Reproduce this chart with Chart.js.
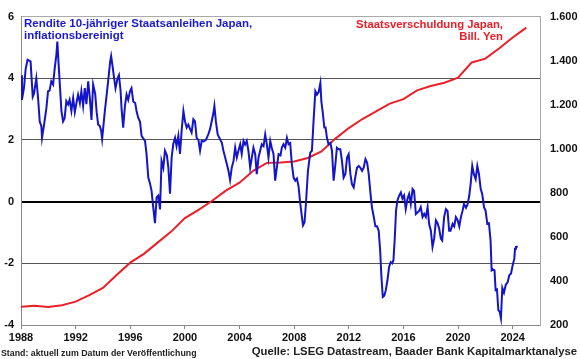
<!DOCTYPE html>
<html>
<head>
<meta charset="utf-8">
<script src="https://cdn.jsdelivr.net/npm/chart.js@4/dist/chart.umd.min.js"></script>
<style>
  body { margin: 0; background: #fff; }
  #wrap { position: relative; width: 580px; height: 359px; font-family: "Liberation Sans", Arial, sans-serif; font-weight: bold; }
  .lbl { position: absolute; white-space: nowrap; line-height: 12px; }
</style>
</head>
<body>
<div id="wrap">
  <canvas id="lineChart" width="580" height="359"></canvas>
  <div class="lbl" style="left:24px; top:17px; font-size:11.5px; color:#1a1acc;">Rendite 10-jähriger Staatsanleihen Japan,<br>inflationsbereinigt</div>
  <div class="lbl" style="right:77px; top:18px; font-size:11.3px; color:#e8202a; text-align:right;">Staatsverschuldung Japan,<br>Bill. Yen</div>
  <div class="lbl" style="left:1px; top:347px; font-size:8.8px; color:#222;">Stand: aktuell zum Datum der Veröffentlichung</div>
  <div class="lbl" style="right:3px; top:345px; font-size:11.3px; color:#222;">Quelle: LSEG Datastream, Baader Bank Kapitalmarktanalyse</div>
</div>
<script>
// real 10y JGB yield (left axis, %)
const yieldDates = [1988.00,1988.07,1988.22,1988.34,1988.48,1988.70,1988.86,1988.95,1989.12,1989.25,1989.37,1989.49,1989.54,1989.69,1989.86,1989.98,
  1990.09,1990.22,1990.35,1990.47,1990.59,1990.66,1990.77,1990.86,1990.96,1991.08,1991.19,1991.32,1991.45,1991.56,1991.69,1991.82,1991.94,
  1992.06,1992.18,1992.31,1992.42,1992.55,1992.67,1992.79,1992.92,1993.04,1993.16,1993.28,1993.43,1993.54,1993.65,1993.77,1993.87,1993.94,
  1994.14,1994.26,1994.38,1994.53,1994.60,1994.70,1994.82,1994.92,1995.07,1995.17,1995.29,1995.36,1995.48,1995.61,1995.73,1995.85,1995.98,
  1996.09,1996.22,1996.36,1996.46,1996.58,1996.71,1996.83,1996.95,1997.08,1997.19,1997.32,1997.44,1997.56,1997.68,1997.81,1997.93,
  1998.05,1998.18,1998.29,1998.42,1998.54,1998.68,1998.79,1998.91,1999.03,1999.15,1999.28,1999.39,1999.52,1999.64,1999.76,1999.89,
  2000.01,2000.13,2000.25,2000.38,2000.49,2000.62,2000.74,2000.86,2000.99,2001.11,2001.23,2001.38,2001.54,2001.72,2001.84,2001.96,
  2002.09,2002.16,2002.27,2002.40,2002.58,2002.71,2002.82,2002.95,2003.19,2003.31,2003.43,2003.56,2003.68,2003.80,2003.92,
  2004.05,2004.16,2004.29,2004.41,2004.53,2004.65,2004.78,2004.90,2005.02,2005.15,2005.26,2005.39,2005.51,2005.63,2005.76,2005.88,
  2006.00,2006.12,2006.25,2006.36,2006.49,2006.61,2006.73,2006.86,2007.00,2007.10,2007.22,2007.35,2007.47,2007.59,2007.71,2007.83,2007.96,
  2008.08,2008.20,2008.32,2008.45,2008.57,2008.65,2008.76,2008.86,2009.01,2009.18,2009.30,2009.42,2009.55,2009.67,2009.79,2009.92,2009.99,
  2010.08,2010.21,2010.30,2010.40,2010.52,2010.65,2010.77,2010.89,2011.02,2011.13,2011.26,2011.38,2011.50,2011.62,2011.75,2011.87,2011.99,
  2012.12,2012.23,2012.36,2012.48,2012.60,2012.73,2012.85,2012.97,2013.09,2013.22,2013.34,2013.46,2013.58,2013.70,2013.83,2013.95,
  2014.07,2014.19,2014.30,2014.39,2014.49,2014.60,2014.71,2014.83,2014.95,2015.07,2015.18,2015.27,2015.37,2015.46,2015.56,2015.68,2015.81,2015.93,
  2016.05,2016.17,2016.30,2016.42,2016.54,2016.67,2016.78,2016.91,2017.03,2017.15,2017.27,2017.40,2017.52,2017.64,2017.77,2017.88,
  2018.01,2018.13,2018.25,2018.38,2018.50,2018.62,2018.74,2018.84,2018.98,2019.11,2019.23,2019.35,2019.45,2019.60,2019.72,2019.84,2019.97,
  2020.09,2020.21,2020.33,2020.43,2020.58,2020.70,2020.82,2020.92,2021.04,2021.16,2021.29,2021.41,2021.53,2021.66,2021.77,2021.90,
  2022.02,2022.14,2022.26,2022.38,2022.46,2022.56,2022.67,2022.75,2022.85,2022.95,2023.05,2023.14,2023.24,2023.36,2023.49,2023.64,2023.75,2023.88,
  2024.00,2024.12,2024.17,2024.24,2024.37];
const yieldValues = [4.1,3.3,3.7,4.3,4.6,4.55,3.4,3.5,4.0,3.36,2.6,2.45,2.07,2.5,3.04,3.58,
  3.6,3.9,3.8,4.33,4.76,5.19,4.33,3.68,2.94,2.6,2.7,3.26,3.15,3.3,2.94,3.36,2.9,
  3.2,3.47,3.2,3.58,3.1,3.68,3.16,3.9,3.36,2.65,3.8,3.5,2.9,2.5,2.45,2.3,2.03,
  2.94,3.42,3.9,4.55,4.72,4.4,4.0,3.68,4.0,4.1,3.6,3.04,2.4,3.1,3.47,3.3,3.58,
  3.68,3.25,3.2,2.94,2.72,2.6,2.13,2.05,1.97,1.55,0.78,0.6,0.35,-0.18,-0.7,0.14,
  0.2,-0.25,1.32,1.1,1.65,1.5,1.1,0.26,1.43,1.87,2.07,1.8,2.13,1.55,2.29,2.94,
  2.6,2.4,2.5,2.35,2.24,2.67,2.6,2.07,2.0,1.65,1.97,1.95,2.0,2.19,2.35,2.6,
  2.88,3.1,2.6,2.18,2.02,1.9,1.65,1.43,1.0,0.7,1.1,1.32,1.75,1.43,1.65,
  1.86,1.55,1.97,1.85,1.97,1.65,1.1,1.43,1.75,1.54,0.89,1.43,1.65,1.86,1.8,2.18,
  1.86,1.43,1.97,1.75,1.54,0.68,1.1,1.54,1.5,1.75,1.86,1.75,2.07,1.86,1.9,1.22,0.78,
  0.68,0.75,0.5,-0.07,-0.5,-0.77,-0.67,-0.08,1.0,1.59,1.65,2.61,3.58,3.47,3.55,3.85,3.26,
  2.94,2.4,2.4,2.07,1.86,1.9,1.65,0.68,1.22,1.75,1.7,1.7,1.32,0.78,0.9,1.43,1.54,
  0.89,0.57,0.46,0.8,1.1,1.16,1.1,1.0,1.1,1.38,1.27,0.89,0.3,-0.2,-0.5,-0.8,
  -0.8,-0.94,-1.6,-2.44,-3.09,-3.05,-2.87,-2.55,-2.12,-1.96,-2.0,-1.9,-1.15,-0.29,0.03,0.19,0.3,0.1,
  0.2,-0.24,0.1,0.25,-0.08,0.41,0.35,-0.4,-0.35,-0.3,-0.18,-0.5,-0.4,-0.5,-0.18,-0.72,
  -0.94,-1.47,-1.2,-0.61,-0.7,-0.88,-1.2,-1.26,-0.5,-0.24,-0.3,-0.94,-0.94,-0.72,-0.8,-0.5,-0.6,
  -0.8,-0.5,-0.3,-0.08,-0.2,-0.08,0.19,0.57,1.16,0.89,0.73,1.16,0.9,0.41,0.25,-0.18,
  -0.3,-0.72,-0.7,-1.26,-2.23,-2.2,-2.23,-2.87,-2.85,-3.52,-3.57,-3.78,-2.8,-2.95,-2.7,-2.6,-2.39,-2.33,
  -2.06,-1.85,-1.53,-1.47,-1.45];

// government debt (right axis, trillion yen)
const debtYears = [1988,1989,1990,1991,1992,1993,1994,1995,1996,1997,1998,1999,2000,2001,2002,2003,2004,2005,2006,
  2007,2008,2009,2010,2011,2012,2013,2014,2015,2016,2017,2018,2019,2020,2021,2022,2023,2024,2025];
const debtValues = [283,287,282,290,306,336,368,427,483,523,574,624,685,723,764,810,846,900,936,
  938,942,958,988,1045,1094,1135,1170,1205,1225,1265,1285,1300,1323,1392,1409,1455,1505,1550];

const yearTicks = [1988,1992,1996,2000,2004,2008,2012,2016,2020,2024];
const leftTicks = [-4,-2,0,2,4,6];
const rightTicks = [200,400,600,800,1000,1200,1400,1600];

const tickFont = { family: "'Liberation Sans', Arial, sans-serif", size: 11, weight: 'bold' };
const fmtDe = v => v >= 1000 ? Math.floor(v / 1000) + '.' + String(v % 1000).padStart(3, '0') : String(v);

const config = {
  type: 'line',
  data: {
    datasets: [
      {
        data: yieldDates.map((d, i) => ({ x: d, y: yieldValues[i] })),
        borderColor: '#1414c8',
        borderWidth: 2,
        pointRadius: 0,
        yAxisID: 'y'
      },
      {
        data: debtYears.map((d, i) => ({ x: d, y: debtValues[i] })),
        borderColor: '#e8202a',
        borderWidth: 2,
        pointRadius: 0,
        yAxisID: 'y2'
      }
    ]
  },
  options: {
    responsive: false,
    animation: false,
    layout: { padding: { top: 16, left: 0, right: 0, bottom: 0 } },
    plugins: { legend: { display: false }, tooltip: { enabled: false } },
    scales: {
      x: {
        type: 'linear',
        min: 1988,
        max: 2026,
        afterBuildTicks: scale => { scale.ticks = yearTicks.map(v => ({ value: v })); },
        afterFit: scale => { scale.height = 34; },
        ticks: { font: tickFont, color: '#111', padding: 2, maxRotation: 0, callback: v => String(v) },
        grid: { drawOnChartArea: false, drawTicks: true, tickLength: 4, color: '#888' },
        border: { color: '#888' }
      },
      y: {
        position: 'left',
        min: -4,
        max: 6,
        afterBuildTicks: scale => { scale.ticks = leftTicks.map(v => ({ value: v })); },
        afterFit: scale => { scale.width = 21; },
        ticks: { font: tickFont, color: '#111', padding: 7 },
        grid: {
          drawTicks: false,
          color: ctx => ctx.tick.value === 0 ? '#000' : (ctx.tick.value === 6 ? '#aaa' : '#555'),
          lineWidth: ctx => ctx.tick.value === 0 ? 2 : 1
        },
        border: { color: '#888' }
      },
      y2: {
        position: 'right',
        min: 200,
        max: 1600,
        afterBuildTicks: scale => { scale.ticks = rightTicks.map(v => ({ value: v })); },
        afterFit: scale => { scale.width = 40; },
        ticks: { font: tickFont, color: '#111', padding: 10, callback: v => fmtDe(v) },
        grid: { drawOnChartArea: false, drawTicks: false },
        border: { color: '#aaa' }
      }
    }
  }
};

const ctx = document.getElementById('lineChart').getContext('2d');
new Chart(ctx, config);
</script>
</body>
</html>
